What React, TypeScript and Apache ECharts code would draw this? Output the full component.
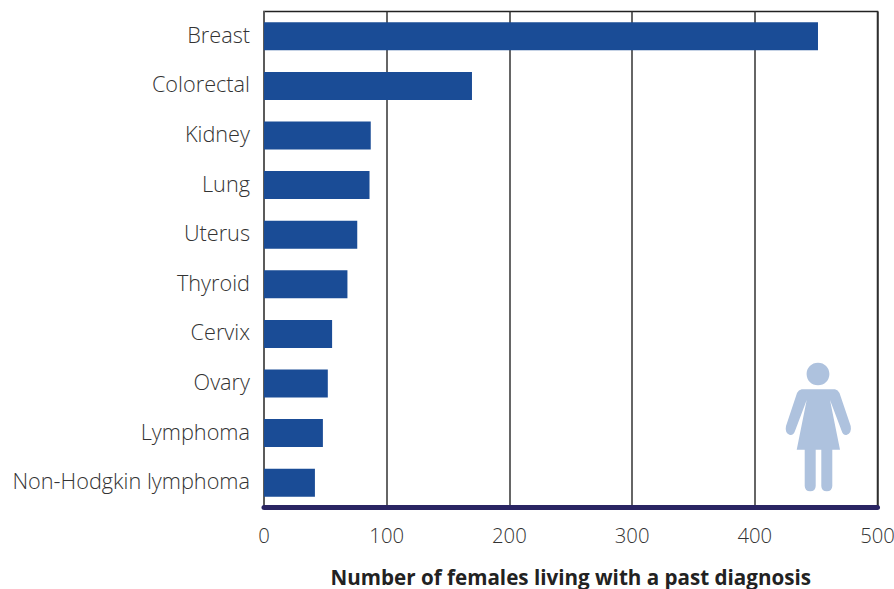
import React, { useEffect, useRef } from "react";
import * as echarts from "echarts";

const categories = ["Breast", "Colorectal", "Kidney", "Lung", "Uterus", "Thyroid", "Cervix", "Ovary", "Lymphoma", "Non-Hodgkin lymphoma"];
const values = [451.5, 169.5, 87, 86, 76, 68, 55.5, 52, 48, 41.5];
const axisTitle = "Number of females living with a past diagnosis";

const figure =
  "M801.7 389.3 H835 Q838 390 839.5 393 L850.7 426 Q852 433 846.5 435 Q843 435.5 841.7 431 L830 400 L840 449.7 H832.3 V486 Q832 491.3 826.8 491.3 Q821.5 491.3 821.3 486 V449.7 H815.7 V486 Q815.5 491.3 810.2 491.3 Q805 491.3 804.7 486 V449.7 H796.7 L806.7 400 L795 431 Q793.5 435.5 790 435 Q784.5 433 786 426 L797 393 Q798.5 390 801.7 389.3 Z " +
  "M818 362.7 C824.5 362.7 829.4 367.6 829.4 374 C829.4 380.4 824.5 385.3 818 385.3 C811.5 385.3 806.6 380.4 806.6 374 C806.6 367.6 811.5 362.7 818 362.7 Z";
echarts.graphic.registerShape("womanIcon", echarts.graphic.extendPath(figure, {}));

export default function App() {
  const ref = useRef<HTMLDivElement>(null);
  useEffect(() => {
    const chart = echarts.init(ref.current!, undefined, { renderer: "svg" });
    chart.setOption({
      animation: false,
      textStyle: { fontFamily: "Open Sans" },
      grid: { left: 264, right: 16.5, top: 11.5, bottom: 81.5, show: true, outerBoundsMode: "none", borderColor: "#222", borderWidth: 1.5, backgroundColor: "#fff" },
      xAxis: {
        type: "value", min: 0, max: 500, interval: 100,
        name: axisTitle, nameLocation: "middle", nameGap: 58.5,
        nameTextStyle: { fontFamily: "Open Sans", fontWeight: 700, fontSize: 20.6, color: "#222" },
        axisLine: { show: true, onZero: false, lineStyle: { color: "#2a2563", width: 5 } },
        axisTick: { show: false },
        axisLabel: { color: "#333", fontSize: 20.3, fontWeight: 300, margin: 17, hideOverlap: false, showMaxLabel: true, showMinLabel: true },
        splitLine: { show: true, lineStyle: { color: "#333", width: 1.5 } },
      },
      yAxis: {
        type: "category", inverse: true, data: categories,
        axisLine: { show: true, onZero: false, lineStyle: { color: "#666", width: 1.5 } },
        axisTick: { show: false },
        axisLabel: { color: "#333", fontSize: 21.7, fontWeight: 300, margin: 14, interval: 0, verticalAlign: "bottom", padding: [0, 0, -9, 0] },
      },
      series: [{ type: "bar", data: values, barWidth: 28, itemStyle: { color: "#1a4c96" } }],
      graphic: [{ type: "womanIcon", x: 0, y: 0, z: 10, style: { fill: "#aec2de" } }],
    });
    return () => chart.dispose();
  }, []);
  return <div ref={ref} style={{ position: "fixed", left: 0, top: 0, width: 894, height: 589, background: "#fff" }} />;
}
